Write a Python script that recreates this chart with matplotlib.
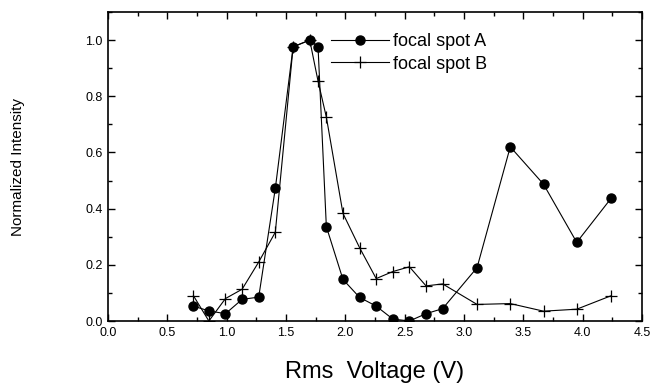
import matplotlib
matplotlib.use("Agg")
import matplotlib.pyplot as plt
from matplotlib.ticker import MultipleLocator

voltage = [0.72, 0.85, 0.99, 1.13, 1.27, 1.41, 1.56, 1.70, 1.77, 1.84, 1.98,
           2.12, 2.26, 2.40, 2.54, 2.68, 2.82, 3.11, 3.39, 3.67, 3.95, 4.24]
spot_a = [0.053, 0.036, 0.026, 0.077, 0.085, 0.472, 0.976, 1.0, 0.976, 0.336, 0.148,
          0.084, 0.053, 0.007, 0.0, 0.026, 0.044, 0.19, 0.62, 0.487, 0.28, 0.437]
spot_b = [0.09, 0.0, 0.08, 0.113, 0.21, 0.316, 0.976, 1.0, 0.854, 0.726, 0.383,
          0.261, 0.151, 0.176, 0.193, 0.125, 0.132, 0.059, 0.062, 0.035, 0.042, 0.09]
labels = ["focal spot A", "focal spot B"]

plt.rcParams['font.family'] = ['Liberation Sans', 'DejaVu Sans']

fig = plt.figure(figsize=(6.65, 3.87), dpi=100)
ax = fig.add_axes([108/665, 1-321/387, 534/665, 309/387])

ax.plot(voltage, spot_a, '-', color='black', lw=0.8, marker='o', ms=6.5,
        mfc='black', mec='black', label=labels[0])
ax.plot(voltage, spot_b, '-', color='black', lw=0.8, marker='+', ms=9,
        mew=0.9, label=labels[1])

ax.set_xlim(0, 4.5)
ax.set_ylim(0, 1.1)
ax.xaxis.set_major_locator(MultipleLocator(0.5))
ax.xaxis.set_minor_locator(MultipleLocator(0.25))
ax.yaxis.set_major_locator(MultipleLocator(0.2))
ax.yaxis.set_minor_locator(MultipleLocator(0.1))
ax.tick_params(which='both', direction='in', top=True, right=True, width=1.0)
ax.tick_params(which='major', length=5, labelsize=9, pad=4)
ax.tick_params(which='minor', length=3)
ax.set_xticklabels([f"{v:.1f}" for v in ax.get_xticks()])
for s in ax.spines.values():
    s.set_linewidth(1.2)

ax.set_xlabel("Rms  Voltage (V)", fontsize=17, labelpad=16)
fig.text(18/665, 1-167/387, "Normalized Intensity", rotation=90,
         fontsize=11, ha='center', va='center')

ax.legend(loc='upper left', bbox_to_anchor=(0.404, 0.955), frameon=False,
          handlelength=3.2, fontsize=13, labelspacing=0.3, handletextpad=0.25,
          borderaxespad=0)

fig.savefig("out.png", dpi=100)
